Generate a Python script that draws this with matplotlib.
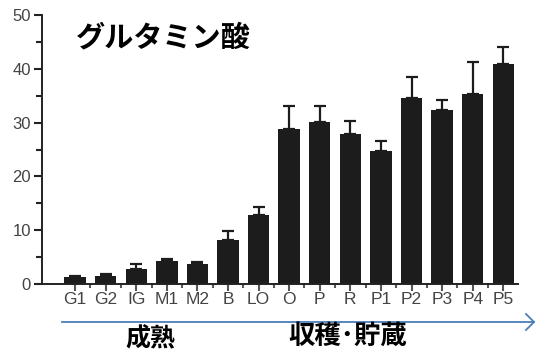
import matplotlib
matplotlib.use("Agg")
import matplotlib.pyplot as plt
from matplotlib.lines import Line2D
import numpy as np

categories = ["G1", "G2", "IG", "M1", "M2", "B", "LO", "O", "P", "R", "P1", "P2", "P3", "P4", "P5"]
values = [1.25, 1.5, 2.7, 4.3, 3.7, 8.2, 12.8, 28.8, 30.1, 27.8, 24.7, 34.5, 32.3, 35.4, 40.8]
errors = [0.2, 0.3, 1.0, 0.4, 0.4, 1.6, 1.5, 4.3, 2.9, 2.5, 1.8, 4.0, 1.9, 5.9, 3.3]
title = "グルタミン酸"
stage_labels = ["成熟", "収穫･貯蔵"]

plt.rcParams['font.family'] = ['Liberation Sans', 'DejaVu Sans']

fig = plt.figure(figsize=(5.36, 3.56), dpi=100)
ax = fig.add_axes([42/536, 1-284/356, (518-42)/536, (284-15)/356])

x = np.arange(len(categories))
ax.bar(x, values, width=0.7, color="#1c1c1c", zorder=2)
ax.errorbar(x, values, yerr=[np.zeros(len(errors)), errors], fmt="none",
            ecolor="#1c1c1c", elinewidth=1.6, capsize=4, capthick=1.6, zorder=1)

ax.set_ylim(0, 50)
ax.set_xlim(-1.08, 14.48)
ax.set_yticks([0, 10, 20, 30, 40, 50])
ax.set_yticks([5, 15, 25, 35, 45], minor=True)
ax.set_xticks(x)
ax.set_xticklabels(categories)
ax.set_xticks(x[:-1] + 0.5, minor=True)

for s in ["top", "right"]:
    ax.spines[s].set_visible(False)
for s in ["left", "bottom"]:
    ax.spines[s].set_linewidth(1.4)
    ax.spines[s].set_color("#222222")

ax.tick_params(axis="y", which="major", direction="out", length=6, width=1.5, labelsize=12,
               labelcolor="#444444", color="#222222", pad=2)
ax.tick_params(axis="y", which="minor", direction="out", length=4, width=1.5, color="#222222")
ax.tick_params(axis="x", which="major", direction="out", length=5, width=1.5, labelsize=12.5,
               labelcolor="#444444", color="#555555", pad=1)
ax.tick_params(axis="x", which="minor", direction="out", length=3, width=1.5, color="#555555")

cjk = ["Noto Sans CJK JP", "DejaVu Sans"]
fig.text(163/536, 1-37/356, title, fontsize=21, fontweight="bold",
         family=cjk, ha="center", va="center")

# blue arrow below axis
ay = 1 - 322/356
fig.add_artist(Line2D([62/536, 534/536], [ay, ay], color="#4a7ebb", lw=1.3))
fig.add_artist(Line2D([526/536, 534/536, 526/536],
                      [ay + 8/356, ay, ay - 8/356], color="#4a7ebb", lw=1.3))

fig.text(150/536, 1-339/356, stage_labels[0], fontsize=18, fontweight="bold",
         family=cjk, ha="center", va="center")
fig.text(348/536, 1-336/356, stage_labels[1], fontsize=19, fontweight="bold",
         family=cjk, ha="center", va="center")

fig.savefig("out.png", dpi=100)
